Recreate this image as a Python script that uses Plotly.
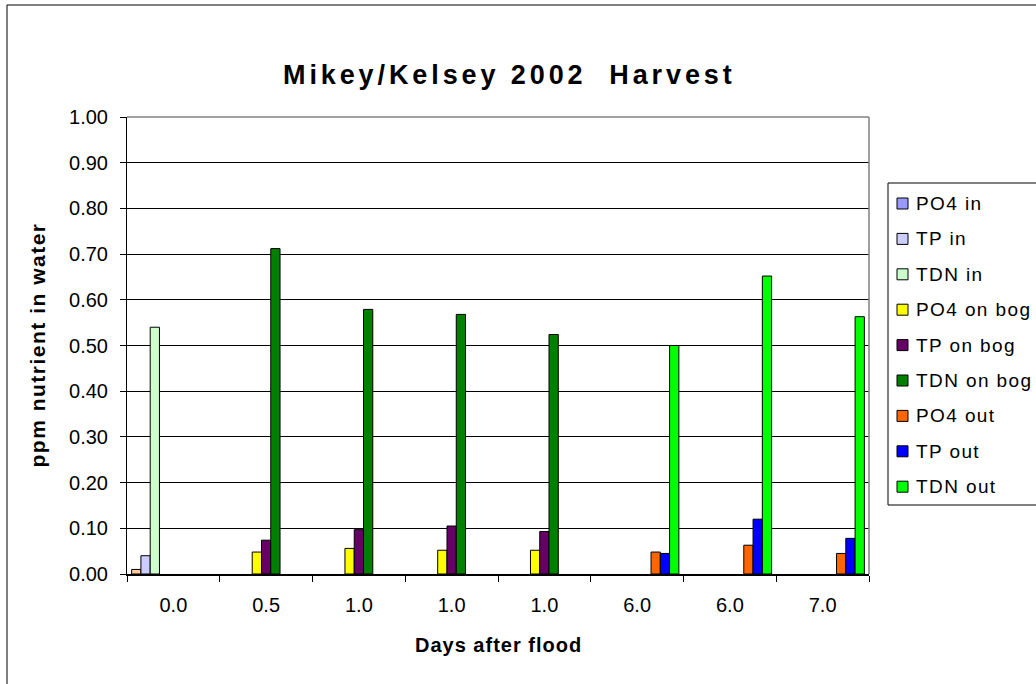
import plotly.graph_objects as go

# Category labels (days after flood) -- several sampling dates repeat
days = ["0.0", "0.5", "1.0", "1.0", "1.0", "6.0", "6.0", "7.0"]

# ppm nutrient in water, one list per series (None = not sampled)
po4_in = [0.01, None, None, None, None, None, None, None]
tp_in = [0.04, None, None, None, None, None, None, None]
tdn_in = [0.54, None, None, None, None, None, None, None]
po4_on_bog = [None, 0.048, 0.056, 0.052, 0.052, None, None, None]
tp_on_bog = [None, 0.074, 0.097, 0.105, 0.093, None, None, None]
tdn_on_bog = [None, 0.712, 0.579, 0.568, 0.524, None, None, None]
po4_out = [None, None, None, None, None, 0.048, 0.063, 0.045]
tp_out = [None, None, None, None, None, 0.045, 0.120, 0.078]
tdn_out = [None, None, None, None, None, 0.500, 0.652, 0.563]

series_names = ["PO4 in", "TP in", "TDN in", "PO4 on bog", "TP on bog",
                "TDN on bog", "PO4 out", "TP out", "TDN out"]
series_values = [po4_in, tp_in, tdn_in, po4_on_bog, tp_on_bog,
                 tdn_on_bog, po4_out, tp_out, tdn_out]
legend_colors = ["#9999FF", "#CCCCFF", "#CCFFCC", "#FFFF00", "#660066",
                 "#008000", "#FF6600", "#0000FF", "#00FF00"]
# the single "PO4 in" bar is filled tan in the workbook
bar_colors = ["#FFCC99"] + legend_colors[1:]

FONT = "Arial, 'Liberation Sans', sans-serif"
W, H = 1036, 684
L, R, T, B = 127, 869, 117, 574   # plot area in pixels


def px_x(px):
    return (px - L) / (R - L)


def px_y(py):
    return (B - py) / (B - T)


def spaced(text, ls):
    return f'<span style="letter-spacing:{ls}px">{text}</span>'


xpos = list(range(len(days)))
n = len(series_names)
bw = 0.1

fig = go.Figure()
for i, (name, vals) in enumerate(zip(series_names, series_values)):
    fig.add_trace(go.Bar(
        x=xpos, y=vals, name=name,
        width=bw, offset=-n * bw / 2 + i * bw,
        marker=dict(color=bar_colors[i], line=dict(color="black", width=1)),
        showlegend=False,
    ))

shapes = []
annotations = []

# outer chart border
shapes.append(dict(type="rect", xref="paper", yref="paper",
                   x0=px_x(7), x1=px_x(1040), y0=px_y(690), y1=px_y(5),
                   line=dict(color="black", width=1), layer="below"))
# plot-area frame (top and right edges)
shapes.append(dict(type="line", xref="paper", yref="paper",
                   x0=0, x1=1, y0=1, y1=1,
                   line=dict(color="#808080", width=1.5), layer="above"))
shapes.append(dict(type="line", xref="paper", yref="paper",
                   x0=1, x1=1, y0=0, y1=1,
                   line=dict(color="#808080", width=1.5), layer="above"))

# legend box
lg_left, lg_top, lg_bottom = 888, 183, 505
shapes.append(dict(type="rect", xref="paper", yref="paper",
                   x0=px_x(lg_left), x1=px_x(1045), y0=px_y(lg_bottom), y1=px_y(lg_top),
                   line=dict(color="black", width=1), fillcolor="white", layer="above"))
y0_item, step = 203.5, 35.4
for i, name in enumerate(series_names):
    yc = y0_item + i * step
    shapes.append(dict(type="rect", xref="paper", yref="paper",
                       x0=px_x(897), x1=px_x(908), y0=px_y(yc + 5.5), y1=px_y(yc - 5.5),
                       line=dict(color="black", width=1), fillcolor=legend_colors[i],
                       layer="above"))
    annotations.append(dict(xref="paper", yref="paper", x=px_x(914), y=px_y(yc),
                            xanchor="left", yanchor="middle", showarrow=False,
                            text=spaced(name, 1.4),
                            font=dict(family=FONT, size=19, color="black")))

# axis titles
annotations.append(dict(xref="paper", yref="paper", x=0.5, y=px_y(645),
                        xanchor="center", yanchor="middle", showarrow=False,
                        text=spaced("<b>Days after flood</b>", 1),
                        font=dict(family=FONT, size=20, color="black")))
annotations.append(dict(xref="paper", yref="paper", x=px_x(37), y=0.5,
                        xanchor="center", yanchor="middle", showarrow=False,
                        textangle=-90, text=spaced("<b>ppm nutrient in water</b>", 1.5),
                        font=dict(family=FONT, size=21, color="black")))
# chart title
annotations.append(dict(xref="paper", yref="paper", x=px_x(510), y=px_y(75),
                        xanchor="center", yanchor="middle", showarrow=False,
                        text=spaced("<b>Mikey/Kelsey 2002\u00a0 Harvest</b>", 3.9),
                        font=dict(family=FONT, size=27, color="black")))

fig.update_layout(
    width=W, height=H,
    margin=dict(l=L, r=W - R, t=T, b=H - B, pad=0),
    paper_bgcolor="white", plot_bgcolor="white",
    barmode="overlay",
    shapes=shapes,
    annotations=annotations,
    xaxis=dict(
        range=[-0.5, len(days) - 0.5],
        tickmode="array", tickvals=xpos, ticktext=days,
        ticks="", ticklabelstandoff=12,
        tickfont=dict(family=FONT, size=20, color="black"),
        showgrid=False, zeroline=False,
        showline=True, linecolor="black", linewidth=2,
        minor=dict(tickmode="array",
                   tickvals=[k - 0.5 for k in range(len(days) + 1)],
                   ticks="outside", ticklen=6, tickcolor="black", tickwidth=1),
    ),
    yaxis=dict(
        range=[0, 1.0], tickmode="linear", tick0=0, dtick=0.1,
        tickformat=".2f",
        ticks="outside", ticklen=6, tickcolor="black", tickwidth=1,
        ticklabelstandoff=8,
        tickfont=dict(family=FONT, size=20, color="black"),
        showgrid=True, gridcolor="black", gridwidth=1,
        zeroline=False,
        showline=True, linecolor="black", linewidth=1,
    ),
)

fig.write_html("out.html")
